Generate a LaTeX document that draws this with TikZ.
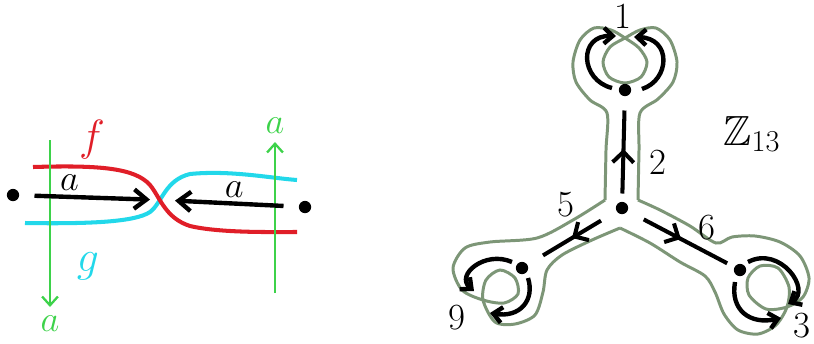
\documentclass[tikz,border=0pt]{standalone}
\usepackage{amsmath,amssymb}
\usepackage{tikz}
\usetikzlibrary{arrows.meta,decorations.markings}
\definecolor{cred}{HTML}{E01E28}
\definecolor{ccyan}{HTML}{22D8EA}
\definecolor{cgreen}{HTML}{3DD24A}
\definecolor{crib}{HTML}{7D9677}

\begin{document}
\begin{tikzpicture}[x=0.02cm,y=-0.02cm,
  dot/.style={circle,fill=black,inner sep=0pt,minimum size=7pt},
  lbl/.style={font=\fontsize{21}{24}\selectfont},
  flow/.style={line width=2.5pt,-{Straight Barb[length=7pt,width=11pt]}},
  thread/.style={cgreen,line width=1.3pt,-{Straight Barb[length=5pt,width=9pt]}},
  rib/.style={crib,line width=1.7pt},
  arm/.style={line width=2.3pt,postaction={decorate},
    decoration={markings,mark=at position 0.5 with {\arrow{Straight Barb[length=6pt,width=12pt]}}}},
  loopy/.style={line width=2.5pt,-{Straight Barb[length=5pt,width=9pt]}}]
  \useasboundingbox (0,0) rectangle (814,343);

  \node[dot] (p) at (13,195) {};
  \node[dot] (q) at (305,207) {};
  \coordinate (x) at (162,200);
  \draw[ccyan,line width=2.3pt] (25,223) .. controls (90,224) and (135,222) .. (150,212) .. controls (162,203) and (165,180) .. (190,174) .. controls (230,170) and (270,178) .. (297,180);
  \draw[cred,line width=2.3pt] (33,167) .. controls (100,165) and (135,168) .. (150,185) .. controls (160,197) and (165,218) .. (190,226) .. controls (220,233) and (270,232) .. (297,232);
  \coordinate (gl1) at (50,140);
  \coordinate (gl2) at (50,307);
  \coordinate (gr1) at (275,293);
  \coordinate (gr2) at (275,142);
  \draw[thread] (gl1) -- (gl2) node[lbl,below=1pt] (ga1) {$a$};
  \draw[thread] (gr1) -- (gr2) node[lbl,above=1pt] (ga2) {$a$};
  \draw[flow,shorten <=0.3cm,shorten >=0.24cm] (p) -- (x) node[lbl,pos=0.35,above=-1pt] (pa) {$a$};
  \draw[flow,shorten <=0.3cm,shorten >=0.26cm] (q) -- (x) node[lbl,pos=0.47,above=-1pt] (qa) {$a$};
  \node[cred,font=\fontsize{24}{28}\selectfont] (f) at (92,140) {$f$};
  \node[ccyan,font=\fontsize{28}{32}\selectfont] (g) at (88,266) {$g$};

  \draw[rib] plot[smooth] coordinates {(605,200) (606,150) (607,113) (590,100) (576,82) (573,62) (580,40) (594,28) (611,30) (625,38) (639,48) (647,62) (641,77) (625,83) (609,77) (603,62) (610,47) (625,38) (640,30) (656,28) (670,40) (677,62) (673,82) (658,99) (640,113) (639,150) (638,200)};
  \draw[rib] plot[smooth] coordinates {(638,200) (660,210) (690,226) (716,243) (732,237) (755,236) (780,242) (800,256) (809,278) (803,297) (787,307) (766,309) (749,295) (748,278) (760,266) (778,268) (789,287) (787,307) (776,325) (758,334) (738,330) (724,314) (715,292) (705,276) (680,262) (650,243) (620,228)};
  \draw[rib] plot[smooth] coordinates {(620,228) (592,240) (562,255) (547,270) (543,292) (535,315) (515,324) (495,322) (483,300) (486,280) (500,270) (515,278) (518,294) (504,303) (483,300) (462,290) (453,268) (465,248) (490,242) (537,238) (573,220) (605,200)};

  \node[dot] (c) at (622,208) {};
  \node[dot] (t) at (625,90) {};
  \node[dot] (l) at (522,268) {};
  \node[dot] (r) at (740,270) {};
  \draw[arm,shorten <=0.16cm,shorten >=0.28cm] (c) -- (t);
  \draw[arm,shorten <=0.36cm,shorten >=0.36cm] (c) -- (l);
  \draw[arm,shorten <=0.36cm,shorten >=0.16cm] (c) -- (r);

  \draw[loopy] (612,88) .. controls (580,80) and (578,35) .. (616,36);
  \draw[loopy] (642,89) .. controls (670,80) and (672,38) .. (634,37);
  \draw[loopy] (512,262) .. controls (485,250) and (455,275) .. (474,291);
  \draw[loopy] (528,278) .. controls (535,300) and (520,318) .. (490,313);
  \draw[loopy] (748,262) .. controls (780,245) and (812,290) .. (788,304);
  \draw[loopy] (735,282) .. controls (730,310) and (750,325) .. (781,318);

  \node[lbl] (n1) at (623,16) {1};
  \node[lbl] (n2) at (658,162) {2};
  \node[lbl] (n5) at (566,205) {5};
  \node[lbl] (n6) at (707,228) {6};
  \node[lbl] (n9) at (457,318) {9};
  \node[lbl] (n3) at (802,326) {3};
  \node[font=\fontsize{24}{28}\selectfont] (zz) at (752,134) {$\mathbb{Z}_{13}$};
\end{tikzpicture}
\end{document}
